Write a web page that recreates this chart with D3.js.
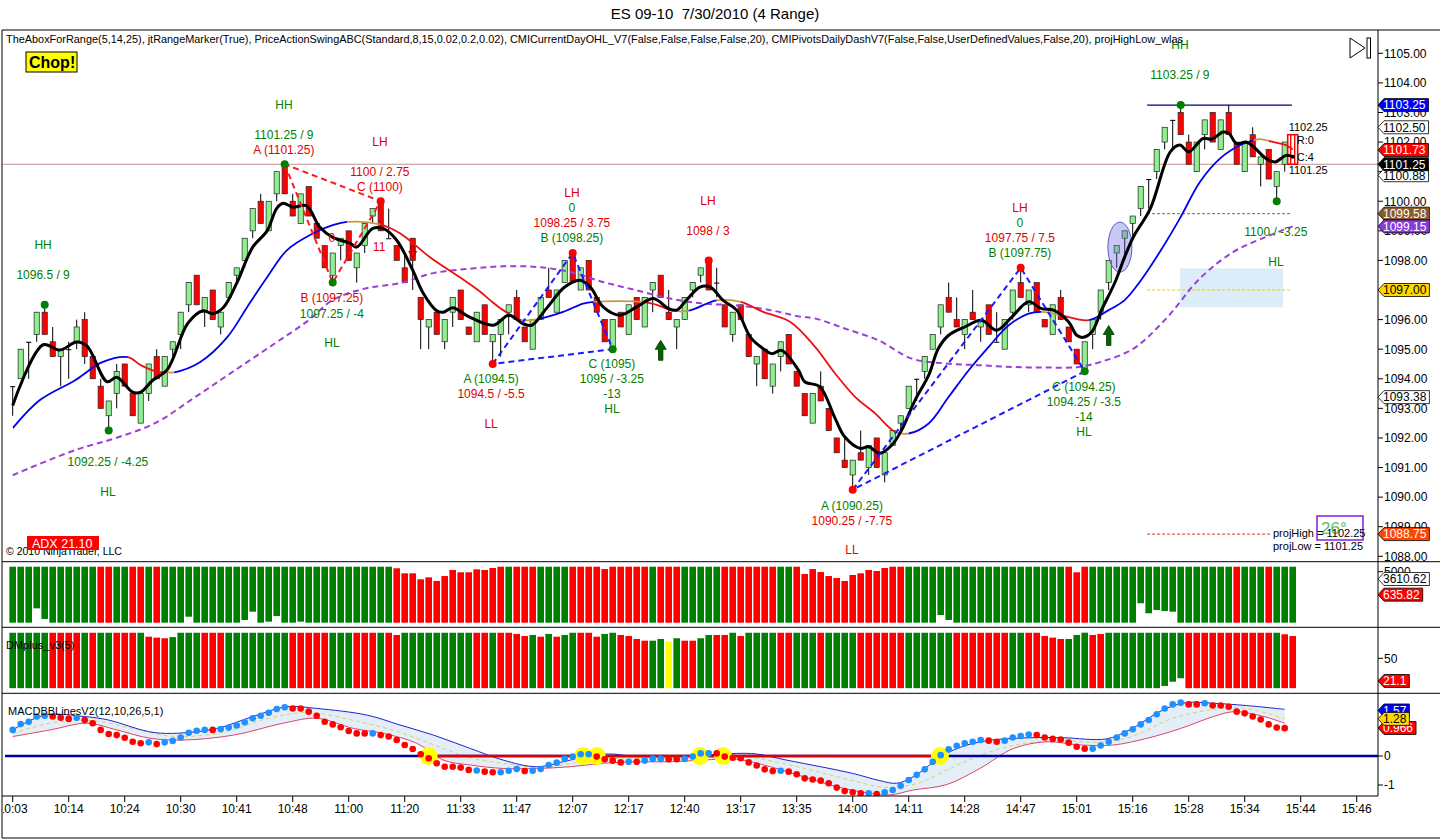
<!DOCTYPE html>
<html>
<head>
<meta charset="utf-8">
<script src="https://cdnjs.cloudflare.com/ajax/libs/d3/7.8.5/d3.min.js"></script>
<style>
  body { margin: 0; background: #fff; }
  svg text { font-family: "Liberation Sans", Arial, sans-serif; }
</style>
</head>
<body>
<div id="chart"></div>
<script>
// ES 09-10 4 range chart, 7/30/2010
const width = 1440, height = 840;

// ---- price bars (one per range bar) ----
const opens = [
  1093.75,1094,1095.25,1095.5,1096.25,1095.25,1094.75,1095,1095.25,1096,
  1094.75,1093.75,1092.75,1093.5,1094.5,1093.5,1092.5,1093.5,1094.75,1093.75,
  1095,1095.5,1096.5,1097.5,1096.25,1097,1095.75,1096.75,1097.5,1098,
  1099,1100,1099,1100.25,1101.25,1100,1099.25,1100.5,1099.25,1098.5,
  1097.5,1098.5,1099,1097.75,1098.5,1099.5,1100,1098.75,1098.5,1097.75,
  1098.75,1096.75,1095.75,1096.25,1095.25,1096.25,1097,1095.75,1095.25,1096.5,
  1095.25,1095.5,1096.25,1096.75,1095.75,1095,1096,1097,1096.25,1097.25,
  1098.25,1097,1098,1096.75,1096,1095,1096.25,1095.5,1096.75,1095.75,
  1097,1097.5,1096.25,1095.75,1096,1097,1097.5,1098,1097.25,1096.5,
  1095.5,1096.5,1095.5,1094.5,1095,1093.75,1094.75,1095.5,1094.25,1093.5,
  1092.5,1093.75,1093,1092,1091.25,1090.75,1091.5,1091,1092,1090.75,
  1091.75,1092.5,1093,1094,1094.25,1095,1095.75,1096.75,1096,1095.5,
  1096.25,1095.75,1096.5,1095.25,1095,1096.25,1097.25,1096.5,1097.25,1096,
  1095.5,1096.75,1095.75,1095,1094.25,1095.5,1096.25,1097.25,1098.25,1098.75,
  1099.25,1099.75,1100.75,1101,1102,1102.75,1103,1102,1101,1102.25,
  1103,1101.75,1103,1102,1101,1102.25,1101.25,1101.75,1100.5,1101.25,
  1102.25
];
const highs = [
  1093.75,1095,1095.25,1096.25,1096.5,1095.75,1095,1095.25,1096,1096.25,
  1094.75,1094,1093.25,1094.5,1094.5,1093.5,1093.5,1094.5,1095,1094.75,
  1095.25,1096.25,1097.25,1097.5,1096.75,1097,1096.25,1097.25,1097.75,1098.75,
  1099.75,1100.25,1100,1101,1101.25,1100.25,1100.25,1100.5,1099.25,1098.5,
  1098.25,1098.75,1099,1098.25,1099.25,1099.75,1100,1099.75,1098.5,1098.25,
  1098.75,1096.75,1096,1096.25,1096,1096.75,1097,1095.75,1096.25,1096.5,
  1095.5,1096,1096.5,1097,1095.75,1096,1096.75,1097.75,1097,1098,
  1098.25,1097.75,1098,1096.75,1096,1096,1096.25,1096.5,1096.75,1096.75,
  1097.25,1097.5,1097,1096,1096.75,1097.25,1097.75,1098,1097.75,1096.5,
  1096.25,1096.5,1095.5,1094.75,1095,1094.5,1095.25,1095.5,1094.25,1093.5,
  1093.5,1094.25,1093,1092,1092,1091.25,1092.25,1091.75,1092,1091.5,
  1092.25,1092.75,1093.75,1094,1094.75,1095.5,1096.5,1097.25,1096.75,1096,
  1097,1096,1096.5,1096.25,1096,1097,1097.75,1097,1097.25,1096,
  1096.5,1097,1095.75,1095,1095.25,1096,1097,1098,1098.5,1099,
  1099.5,1100.5,1100.75,1101.75,1102.5,1102.75,1103.25,1102.25,1102,1102.75,
  1103,1102.75,1103.25,1102,1102,1102.5,1101.5,1101.75,1101,1102,
  1102.25
];
const lows = [
  1092.75,1094,1094,1095.25,1095.5,1094.75,1093.75,1094,1095,1094.5,
  1094,1093,1092.25,1093,1093.75,1092.75,1092.5,1093.25,1094,1093.75,
  1094.75,1095,1096.25,1096.5,1095.75,1096,1095.5,1096.75,1097.25,1097.75,
  1098.75,1099.25,1099,1100,1100.25,1099.5,1099.25,1099.5,1098.75,1097.75,
  1097.25,1098,1098,1097.25,1098.25,1099.25,1099,1098.75,1098,1097.25,
  1097,1095,1095,1095.5,1095,1095.75,1096,1095.5,1095.25,1095.5,
  1094.5,1094.75,1095.5,1096,1095.25,1095,1096,1096.75,1096.25,1097.25,
  1097.25,1097,1097,1096.25,1095.25,1095,1095.75,1095.5,1096,1095.75,
  1096.25,1096.75,1096,1095,1096,1096.75,1097.25,1097,1096.75,1095.75,
  1095.25,1096,1094.75,1093.75,1094,1093.5,1094.25,1094.5,1093.75,1092.75,
  1092.5,1093.25,1092.25,1091.5,1091,1090.25,1091.25,1090.75,1091,1090.5,
  1091.75,1092.25,1093,1093.25,1094,1095,1095.5,1096.25,1095.75,1095,
  1096,1095.25,1095.5,1095.25,1095,1096,1096.75,1096.25,1096.25,1095.75,
  1095.5,1096,1095.25,1094.5,1094.25,1095,1096,1097,1097.75,1098,
  1098.75,1099.5,1099.75,1100.75,1101.75,1101.75,1102.25,1101.25,1101,1101.75,
  1102,1101.75,1102.25,1101.25,1101,1101.5,1100.5,1100.75,1100,1101,
  1101.25
];
const closes = [
  1093.75,1095,1095.25,1096.25,1095.5,1094.75,1095,1095,1095.75,1094.75,
  1094,1093,1093.25,1094.25,1093.75,1092.75,1093.5,1094.5,1094,1094.75,
  1095.25,1096.25,1097.25,1096.5,1096.75,1096,1096.25,1097.25,1097.75,1098.75,
  1099.75,1099.25,1100,1101,1100.25,1099.5,1100.25,1099.5,1098.75,1097.75,
  1098.25,1098.75,1098,1098.25,1099.25,1099.75,1099,1098.75,1098,1097.25,
  1098,1096,1096,1095.5,1096,1096.75,1096,1095.5,1096.25,1095.5,
  1095.5,1096,1096.5,1096,1095.25,1096,1096.75,1096.75,1097,1098,
  1097.25,1097.75,1097,1096.25,1095.25,1096,1095.75,1096.5,1096,1096.75,
  1097.25,1096.75,1096,1096,1096.75,1097.25,1097.75,1097,1097.25,1095.75,
  1096.25,1096,1094.75,1094.75,1094,1094.5,1095.25,1094.5,1093.75,1092.75,
  1093.5,1093.25,1092.25,1091.5,1091,1091.25,1091.25,1091.75,1091,1091.5,
  1092.25,1092.75,1093.75,1094,1094.75,1095.5,1096.5,1096.25,1095.75,1096,
  1096,1096,1095.5,1095.25,1096,1097,1096.75,1097,1096.25,1095.75,
  1096.5,1096,1095.25,1094.5,1095.25,1096,1097,1098,1098.5,1099,
  1099.5,1100.5,1100.75,1101.75,1102.5,1102.75,1102.25,1101.25,1102,1102.75,
  1102,1102.75,1102.25,1101.25,1102,1101.5,1101.5,1100.75,1101,1102,
  1101.25
];

// moving averages, sampled as [bar, price]
const fastMA = [[0,1093.1],[3.8,1095.15],[5.9,1094.97],[8,1095.24],[9.3,1095.1],[11.8,1093.9],[13,1094.05],[15,1093.55],[16,1093.55],[17.5,1093.95],[19.3,1094.3],[21.9,1095.88],[23.8,1096.3],[25,1096.2],[26.3,1096.4],[28,1097.23],[30,1098.45],[31.8,1099.0],[33,1099.76],[33.8,1099.93],[35,1099.8],[36.7,1099.85],[38.4,1099.12],[40,1098.78],[42.2,1098.58],[43,1098.45],[45,1099.08],[46.3,1099.08],[48,1098.68],[50,1097.67],[51.3,1096.9],[53,1096.3],[53.8,1096.25],[55,1096.4],[57,1096.1],[60.1,1095.81],[62,1096.15],[63.8,1095.86],[64.9,1095.81],[66.7,1096.37],[69,1097.1],[70.9,1097.33],[72.2,1097.1],[73.8,1096.43],[75.9,1096.15],[78,1096.43],[80.1,1096.71],[82,1096.37],[83,1096.32],[84.2,1096.65],[85.9,1097.1],[87.2,1097.1],[88.8,1096.65],[90.5,1096.32],[92.2,1095.41],[93.8,1095.02],[94.9,1094.85],[96.1,1094.96],[98.2,1094.3],[99,1093.9],[100.9,1093.73],[102.8,1092.66],[104,1092.04],[105.9,1091.65],[107,1091.7],[108.4,1091.48],[109.9,1091.76],[111.1,1092.26],[112.8,1093.28],[114.5,1094.12],[115.7,1095.02],[117,1095.47],[119,1095.75],[121.1,1095.98],[123,1095.64],[124.9,1096.09],[127,1096.6],[128.6,1096.37],[130.1,1096.32],[132,1095.92],[133,1095.47],[133.8,1095.4],[134.9,1095.59],[136.1,1096.32],[137.8,1097.27],[139,1098.12],[140.1,1098.8],[142.2,1099.75],[144.7,1101.67],[145.9,1101.9],[147,1101.67],[148.8,1102.12],[149.9,1102.1],[151.3,1102.34],[152,1102.3],[153,1101.95],[154.2,1102.0],[155.1,1101.84],[156.7,1101.44],[157.8,1101.33],[159.2,1101.55],[160,1101.5]];
const midMA = [[0,1092.33],[3.4,1093.28],[7.8,1093.95],[11.2,1094.56],[14.4,1094.73],[16,1094.46],[18,1094.24],[19.3,1094.22],[20.2,1094.22],[23.4,1094.56],[26.8,1095.4],[29.3,1096.42],[31.8,1097.43],[34.3,1098.35],[37.6,1098.92],[40,1099.19],[41.8,1099.3],[45.9,1099.22],[48.4,1098.92],[52.2,1098.1],[55.9,1097.43],[58.4,1096.95],[59.7,1096.65],[61.3,1096.32],[63.6,1095.98],[65.9,1096.03],[68.8,1096.26],[71.3,1096.54],[72.6,1096.6],[78.8,1096.6],[80.5,1096.5],[82.5,1096.3],[84.5,1096.3],[88,1096.65],[91,1096.6],[93.8,1096.26],[97.2,1095.92],[100.3,1095.08],[102.8,1094.18],[105.3,1093.39],[107.8,1092.83],[110.3,1092.21],[112,1092.15],[114.5,1092.49],[117,1093.39],[119.5,1094.29],[122,1095.08],[124.5,1095.81],[127,1096.2],[128.6,1096.26],[131,1096.15],[134.5,1095.98],[137,1096.32],[139,1096.66],[140.9,1097.28],[143.4,1098.29],[145.9,1099.42],[148.4,1100.65],[150.9,1101.44],[153.4,1101.89],[155.1,1102.06],[155.9,1102.1],[157.6,1102.0],[159.2,1101.89],[160,1101.75]];
// slope state of midMA: [fromBar, toBar, state]
const midStates = [[0,14.4,"up"],[14.4,19.3,"dn"],[19.3,20.2,"flat"],[20.2,41.8,"up"],[41.8,45.9,"flat"],[45.9,63.6,"dn"],[63.6,65.9,"flat"],[65.9,72.6,"up"],[72.6,78.8,"flat"],[78.8,82.5,"dn"],[82.5,84.5,"flat"],[84.5,88,"up"],[88,91,"flat"],[91,110.3,"dn"],[110.3,112,"flat"],[112,128.6,"up"],[128.6,131,"flat"],[131,134.5,"dn"],[134.5,155.1,"up"],[155.1,157,"flat"],[157,161,"dn"]];
const slowMA = [[0,1090.74],[7.8,1091.59],[12.8,1091.99],[17.8,1092.5],[22.8,1093.38],[27.8,1094.29],[32.8,1095.2],[37,1095.98],[40,1096.66],[44.2,1097.06],[48.4,1097.23],[52.6,1097.57],[57.2,1097.72],[61.3,1097.8],[65.5,1097.78],[69.7,1097.61],[73.8,1097.27],[78,1096.99],[82.2,1096.71],[86.3,1096.54],[90.5,1096.48],[94.7,1096.32],[98.4,1096.1],[100.3,1096.04],[104,1095.7],[108.2,1095.3],[112.4,1094.68],[116.5,1094.52],[120.7,1094.46],[124.9,1094.4],[129,1094.38],[133.2,1094.4],[136,1094.57],[140.1,1095.02],[144.2,1096.04],[148.4,1097.39],[152.6,1098.29],[156.7,1098.8],[160,1099.15]];

// swing points
const swingDots = [[4,1096.5,"g"],[12,1092.25,"g"],[34,1101.25,"g"],[40,1097.25,"g"],[46,1100,"r"],[60,1094.5,"r"],[70,1098.25,"r"],[75,1095,"g"],[87,1098,"r"],[105,1090.25,"r"],[126,1097.75,"r"],[134,1094.25,"g"],[146,1103.25,"g"],[158,1100,"g"]];
const abcRed = [[34,1101.25],[40,1097.25],[46,1100]];
const abcBlue1 = [[60,1094.5],[70,1098.25],[75,1095]];
const abcBlue2 = [[105,1090.25],[126,1097.75],[134,1094.25]];
const swingLabels = [
  [3.8,1098.52,"HH","g"],[3.8,1097.51,"1096.5 / 9","g"],
  [11.9,1091.19,"1092.25 / -4.25","g"],[11.9,1090.18,"HL","g"],
  [33.9,1103.25,"HH","g"],[33.9,1102.24,"1101.25 / 9","g"],[33.9,1101.73,"A (1101.25)","r"],
  [45.9,1102.0,"LH","r"],[45.9,1100.99,"1100 / 2.75","r"],[45.9,1100.48,"C (1100)","r"],
  [39.9,1098.76,"0","r"],[45.8,1098.45,"11","r"],
  [39.9,1096.73,"B (1097.25)","r"],[39.9,1096.19,"1097.25 / -4","g"],[39.9,1095.21,"HL","g"],
  [69.9,1100.28,"LH","r"],[69.9,1099.77,"0","g"],[69.9,1099.27,"1098.25 / 3.75","r"],[69.9,1098.76,"B (1098.25)","g"],
  [59.8,1093.99,"A (1094.5)","g"],[59.8,1093.49,"1094.5 / -5.5","r"],[59.8,1092.47,"LL","r"],
  [74.9,1094.5,"C (1095)","g"],[74.9,1093.99,"1095 / -3.25","g"],[74.9,1093.49,"-13","g"],[74.9,1092.98,"HL","g"],
  [86.9,1100.01,"LH","r"],[86.9,1099.0,"1098 / 3","r"],
  [104.9,1089.7,"A (1090.25)","g"],[104.9,1089.19,"1090.25 / -7.75","r"],[104.9,1088.21,"LL","r"],
  [125.9,1099.77,"LH","r"],[125.9,1099.27,"0","g"],[125.9,1098.76,"1097.75 / 7.5","r"],[125.9,1098.25,"B (1097.75)","g"],
  [133.9,1093.72,"C (1094.25)","g"],[133.9,1093.21,"1094.25 / -3.5","g"],[133.9,1092.71,"-14","g"],[133.9,1092.2,"HL","g"],
  [145.9,1105.28,"HH","g"],[145.9,1104.27,"1103.25 / 9","g"],
  [157.9,1098.96,"1100 / -3.25","g"],[157.9,1097.95,"HL","g"]
];
const arrows = [[81,1095.3,"up"],[137,1095.8,"up"],[50,1098.1,"dn"]];
const ellipseAt = [138.4, 1098.45];
const rangeInfo = [[159.5,1102.51,"1102.25"],[160.5,1102.07,"R:0"],[160.5,1101.5,"C:4"],[159.5,1101.06,"1101.25"]];

// day levels
const dayHighLine = [141.8, 159.9, 1103.25];
const pivotLine = [141.8, 159.9, 1099.58];
const openLine = [141.8, 159.9, 1097.00];
const projLine = [141.8, 157.2, 1088.75];
const zoneBox = [145.9, 158.8, 1096.41, 1097.73];
const lastCloseLevel = 1101.25;
const priceMarkers = [1103.25, 1102.50, 1101.73, 1100.88, 1101.25, 1099.58, 1099.15, 1097.00, 1093.38, 1088.75];

// volume panel
const volColors = ("GGGGGGGGGGG RR GG RR G R GGGGGGGGGGGGGGGGGGGGGGGGGGGGG RRRRRRRRRRRRRR G RRR GGGG RRRRRRRRRR G RRR GGGGG RRRRRRR GG " +
  "RRRRRRRRRRRRRR GGGGGGGGGGGGGGGGGGGG RRR GGGGGGGGGGGGGGGGGG R GGG R GGG").replace(/ /g, "").split("");
const volume = [
  6000,6000,6000,4460,5600,6000,6000,6000,6000,6000,
  6000,6000,6000,6000,6000,6000,6000,6000,6000,6000,
  6000,6000,5360,6000,6000,6000,6000,6000,6000,5710,
  4820,6000,5890,5290,6000,6000,5890,6000,6000,6000,
  6000,6000,6000,6000,6000,6000,6000,6000,5830,5290,
  5290,4650,4860,4470,5000,5650,5400,5400,5720,5650,
  5860,6000,6000,6000,6000,6000,6000,6000,6000,6000,
  6000,6000,6000,6000,5750,6000,6000,6000,6000,6000,
  6000,6000,6000,6000,6000,6000,6000,6000,6000,6000,
  6000,6000,6000,6000,6000,6000,6000,6000,6000,5220,
  5750,5430,5000,4790,4470,5110,5290,5650,5540,5860,
  6000,6000,6000,6000,6000,6000,5180,5710,6000,6000,
  6000,6000,6000,6000,6000,6000,6000,6000,6000,6000,
  6000,6000,6000,5400,6000,6000,6000,6000,6000,6000,
  6000,3920,4990,4640,4750,4820,6000,6000,6000,6000,
  6000,6000,6000,6000,6000,6000,6000,6000,6000,6000,
  6000
];
const volTicks = [5000];
const volMarkers = [3610.62, 635.82];

// DMplus panel
const dmColors = ("GGGGG RRRR G R GG RRR G RRR GGGG RRR GGGGGGGG RRRRR GGG RRR G RR GGGGGGGGG RR G RRRR G R G R GG RRR GG RRRR GG Y G RR GG RR G R " +
  "GGGG RR GGG R GGGG RRRRRR GGGGGG RRRRRRR GG RRRRR GGG RR GGGGGGGGGG RRRRRRRRRRR G RR").replace(/ /g, "").split("");
const dmTop = [
  82.5,82.5,82.5,82.5,82.5,82.5,82.5,82.5,82.5,82.5,
  82.5,82.5,82.5,82.5,82.5,82.5,82.5,77.5,76.3,75.5,
  77,82.5,82.5,82.5,82.5,82.5,82.5,82.5,82.5,82.5,
  82.5,82.5,82.5,82.5,82.5,82.5,82.5,82.5,82.5,82.5,
  82.5,82.5,82.5,82.5,82.5,82.5,82.5,82.5,79.7,82.5,
  82.5,82.5,82.5,82.5,82.5,82.5,82.5,82.5,82.5,82.5,
  82.5,82.5,82.5,81,78.4,79.7,77.5,81,77.5,79.7,
  82.5,82.5,82.5,77.5,81,82.5,79.7,78.4,74.6,72.4,
  72.4,74.6,71.2,75.5,72.4,72.4,75.5,79.7,79.7,79.7,
  82.5,78.4,82.5,82.5,82.5,82.5,82.5,82.5,82.5,82.5,
  82.5,82.5,82.5,82.5,82.5,82.5,82.5,82.5,82.5,82.5,
  82.5,82.5,82.5,82.5,82.5,82.5,82.5,82.5,82.5,82.5,
  82.5,82.5,82.5,82.5,82.5,82.5,82.5,82.5,82.5,78.4,
  76.3,74.6,74.6,79.7,82.6,79.7,81,82.5,82.5,82.5,
  82.5,82.5,82.5,82.5,82.5,82.5,82.5,82.5,82.5,82.5,
  82.5,82.5,82.5,82.5,82.5,82.5,82.5,82.5,82.5,80.6,
  78.4
];
const dmBottom = [
  12,12,12,12,12,12,12,12,12,12, 12,12,12,12,12,12,12,12,12,12,
  12,12,12,12,12,12,12,12,12,12, 12,12,12,12,12,12,12,12,12,12,
  12,12,12,12,12,12,12,12,12,12, 12,12,12,12,12,12,12,12,12,12,
  12,12,12,12,12,12,12,12,12,12, 12,12,12,12,12,12,12,12,12,12,
  12,12,12,12,12,12,12,12,12,12, 12,12,12,12,12,12,12,12,12,12,
  12,12,12,12,12,12,12,12,12,12, 12,12,12,12,12,12,12,12,12,12,
  12,12,12,12,12,12,12,12,12,12, 12,12,12,12,12,12,12,12,12,12,
  12,12,12,12,14.8,20.2,24.6,12,12,12, 12,12,12,12,12,12,12,12,12,12,
  12
];
const dmTicks = [50];
const dmMarker = 21.1;

// MACD BB panel
const macd = [
  0.90,1.10,1.18,1.36,1.39,1.36,1.32,1.28,1.32,1.24,
  1.13,0.90,0.76,0.72,0.63,0.49,0.44,0.47,0.41,0.47,
  0.52,0.64,0.80,0.87,0.90,0.90,0.93,0.98,1.05,1.16,
  1.30,1.39,1.49,1.62,1.68,1.64,1.64,1.53,1.39,1.18,
  1.09,0.99,0.86,0.78,0.78,0.78,0.72,0.67,0.55,0.38,
  0.24,0.06,-0.08,-0.25,-0.37,-0.37,-0.40,-0.48,-0.50,-0.54,
  -0.56,-0.56,-0.51,-0.45,-0.52,-0.51,-0.45,-0.31,-0.23,-0.10,
  -0.02,0.06,0.06,-0.02,-0.11,-0.16,-0.22,-0.20,-0.20,-0.16,
  -0.10,-0.10,-0.11,-0.11,-0.10,-0.02,0.09,0.09,0.09,-0.02,
  -0.06,-0.08,-0.22,-0.33,-0.46,-0.52,-0.51,-0.54,-0.63,-0.77,
  -0.81,-0.85,-0.94,-1.09,-1.21,-1.25,-1.29,-1.29,-1.31,-1.25,
  -1.17,-1.03,-0.83,-0.65,-0.46,-0.20,0.03,0.23,0.35,0.44,
  0.49,0.55,0.53,0.49,0.53,0.64,0.69,0.74,0.72,0.64,
  0.59,0.57,0.46,0.32,0.25,0.25,0.36,0.49,0.64,0.78,
  0.92,1.09,1.24,1.44,1.64,1.78,1.84,1.78,1.78,1.82,
  1.74,1.74,1.70,1.53,1.47,1.36,1.26,1.09,0.98,0.96
];
const macdColors = ("BBBBB RRR B RRRRRRRR B R BBBBBB R BBBBBBBBB RRRRRRRRRR B RRRRRRRRRRRR B RR BBB R BBBBBBBB RRRR B R BBB RR BBBB " +
  "RRRRRRRR B RRRRRRRRRR B R BBBBBBBBBBBBB RR BBBB RRRRRRR BBBBBBBBBBBB RR B RRRRRRRRRR").replace(/ /g, "").split("");
const bbUpper = [[0,0.90],[4,1.41],[9,1.36],[12,1.24],[17,0.84],[20,0.78],[25.5,0.95],[30,1.36],[34.3,1.70],[38,1.64],[44.3,1.41],[48.4,1.07],[52.6,0.72],[57.2,0.26],[61.3,-0.14],[65.5,-0.37],[69.7,-0.14],[74.2,0.07],[78,-0.02],[82.2,-0.02],[86.3,0.03],[90.5,0.09],[93,0.07],[96.7,-0.14],[101,-0.37],[105,-0.60],[108.4,-0.85],[110.5,-0.94],[112.6,-0.71],[116.7,0.09],[120.9,0.49],[127.2,0.63],[131.3,0.63],[136.7,0.59],[139.6,0.90],[143.8,1.59],[146.7,1.84],[150,1.82],[154.2,1.74],[159,1.61]];
const bbLower = [[0,0.67],[4.7,0.90],[9.3,1.13],[13,0.90],[17.2,0.61],[21.3,0.55],[27.6,0.72],[33.8,1.13],[38,1.30],[42.6,0.95],[46.3,0.78],[50.5,0.44],[53.8,-0.14],[57.2,-0.31],[61.3,-0.43],[65.5,-0.43],[69.7,-0.37],[73.8,-0.25],[78,-0.20],[82.2,-0.20],[86.3,-0.14],[90.5,-0.11],[94.7,-0.37],[98.8,-0.71],[103,-1.06],[107.2,-1.29],[109.7,-1.34],[112.6,-1.17],[116.7,-0.99],[120.9,-0.43],[125.1,0.26],[129.3,0.49],[133.4,0.38],[137.6,0.38],[141.8,0.61],[146,0.95],[150.1,1.36],[152.7,1.53],[156.4,1.36],[159,1.13]];
const bbMiddle = [[0,0.78],[5,1.15],[10,1.22],[15,0.95],[20,0.68],[26,0.80],[32,1.30],[37,1.50],[43,1.20],[48,0.85],[53,0.35],[57,-0.05],[62,-0.28],[66,-0.40],[70,-0.25],[75,-0.08],[80,-0.10],[86,-0.05],[91,-0.02],[95,-0.18],[100,-0.50],[105,-0.85],[109,-1.08],[113,-0.95],[117,-0.45],[121,0.03],[126,0.42],[131,0.52],[136,0.48],[140,0.68],[145,1.30],[150,1.60],[154,1.65],[159,1.28]];
const zeroCrossBars = [52, 71.3, 73, 85.9, 88.8, 115.9];
const zeroBelowRange = [53, 116.7];
const macdTicks = [0, -1];
const macdMarkers = [1.57, 1.28, 0.966];

// time axis, one label every 7 bars
const timeLabels = ["10:03","10:14","10:24","10:30","10:41","10:48","11:00","11:20","11:33","11:47","12:07","12:17","12:40",
  "13:17","13:35","14:00","14:11","14:28","14:47","15:01","15:16","15:28","15:34","15:44","15:46"];

// ---- layout ----
const axisX = 1378, frameL = 2, frameT = 30, frameB = 838;
const mainTop = 30, mainBot = 561.7, volBot = 627.3, dmBot = 693.3, macdBot = 796;
const green = "#008000", red = "#e00000";

const x = d3.scaleLinear().domain([0, 168]).range([12.7, 12.7 + 8 * 168]);
const y = d3.scaleLinear().domain([1088, 1105]).range([556.3, 53.3]);
const yVolLen = d3.scaleLinear().domain([0, 6000]).range([0, 56]);
const yVolAxis = d3.scaleLinear().domain([-4700, 5950]).range([622.7, 566.7]);
const yDm = d3.scaleLinear().domain([0, 100]).range([697.6, 619.0]);
const yMacd = d3.scaleLinear().domain([-1, 1]).range([785, 727]);

const svg = d3.select("#chart").append("svg")
  .attr("width", width).attr("height", height);
svg.append("rect").attr("width", width).attr("height", height).attr("fill", "#fff");
const defs = svg.append("defs");

function clipRect(id, x0, y0, x1, y1) {
  defs.append("clipPath").attr("id", id).append("rect")
    .attr("x", x0).attr("y", y0).attr("width", x1 - x0).attr("height", y1 - y0);
  return "url(#" + id + ")";
}

// title and header text
svg.append("text").attr("x", 715).attr("y", 19).attr("text-anchor", "middle")
  .attr("font-size", 15).style("white-space", "pre").text("ES 09-10  7/30/2010 (4 Range)");

// ---- main price panel ----
const main = svg.append("g").attr("clip-path", clipRect("clipMain", 3, mainTop, axisX, mainBot));

main.append("line").attr("x1", 3).attr("x2", axisX)
  .attr("y1", y(lastCloseLevel)).attr("y2", y(lastCloseLevel))
  .attr("stroke", "#c09090").attr("stroke-width", 1);

main.append("rect")
  .attr("x", x(zoneBox[0])).attr("width", x(zoneBox[1]) - x(zoneBox[0]))
  .attr("y", y(zoneBox[3])).attr("height", y(zoneBox[2]) - y(zoneBox[3]))
  .attr("fill", "#dcecf8");

function hLevel(lv, color, dash, w) {
  main.append("line").attr("x1", x(lv[0])).attr("x2", x(lv[1]))
    .attr("y1", y(lv[2])).attr("y2", y(lv[2]))
    .attr("stroke", color).attr("stroke-width", w || 1)
    .attr("stroke-dasharray", dash || null);
}
hLevel(dayHighLine, "#000080", null, 1.2);
hLevel(pivotLine, "#9a5a2a", "3,2");
hLevel(openLine, "#e6d200", "3,2");
hLevel(projLine, "#e03030", "3,2");

// candles
const bars = d3.range(opens.length).map(i => ({ i, o: opens[i], h: highs[i], l: lows[i], c: closes[i] }));
const lastBar = bars.length - 1;
const cg = main.append("g");
cg.selectAll("line.wick").data(bars.slice(0, lastBar)).enter().append("line")
  .attr("class", "wick")
  .attr("x1", d => x(d.i)).attr("x2", d => x(d.i))
  .attr("y1", d => y(d.h)).attr("y2", d => y(d.l))
  .attr("stroke", "#000").attr("stroke-width", 1);
cg.selectAll("rect.body").data(bars.slice(0, lastBar)).enter().append("rect")
  .attr("class", "body")
  .attr("x", d => x(d.i) - 2.6).attr("width", 5.2)
  .attr("y", d => y(Math.max(d.o, d.c)))
  .attr("height", d => Math.max(1, Math.abs(y(d.o) - y(d.c))))
  .attr("fill", d => d.c > d.o ? "#90ee90" : d.c < d.o ? "#ff0000" : "#000")
  .attr("stroke", d => d.c === d.o ? "none" : "#222").attr("stroke-width", 0.7);

// current (unfinished) range bar
const cb = bars[lastBar];
main.append("rect").attr("x", x(cb.i) - 5).attr("width", 10)
  .attr("y", y(cb.h)).attr("height", y(cb.l) - y(cb.h))
  .attr("fill", "none").attr("stroke", "#ff0000").attr("stroke-width", 1.6);
[-2, 2].forEach(dx => main.append("line")
  .attr("x1", x(cb.i) + dx).attr("x2", x(cb.i) + dx)
  .attr("y1", y(cb.h)).attr("y2", y(cb.l))
  .attr("stroke", "#ff0000").attr("stroke-width", 1.4));
main.append("circle").attr("cx", x(cb.i)).attr("cy", y(1101.5)).attr("r", 2).attr("fill", "#000");

const curve = d3.curveCatmullRom.alpha(0.5);
const maLine = d3.line().x(d => x(d[0])).y(d => y(d[1])).curve(curve);

main.append("path").attr("d", maLine(slowMA)).attr("fill", "none")
  .attr("stroke", "#9b3fd6").attr("stroke-width", 2).attr("stroke-dasharray", "6,4");

const stateColor = { up: "#0000ee", dn: "#ee1010", flat: "#c9993f" };
midStates.forEach((s, k) => {
  main.append("path").attr("d", maLine(midMA)).attr("fill", "none")
    .attr("stroke", stateColor[s[2]]).attr("stroke-width", 1.8)
    .attr("clip-path", clipRect("mid" + k, x(s[0]), 0, x(s[1]), height));
});

main.append("ellipse").attr("cx", x(ellipseAt[0])).attr("cy", y(ellipseAt[1]))
  .attr("rx", 12).attr("ry", 25)
  .attr("fill", "rgba(110,110,220,0.38)").attr("stroke", "#5a5acd").attr("stroke-width", 1);

main.append("path").attr("d", maLine(fastMA)).attr("fill", "none")
  .attr("stroke", "#000").attr("stroke-width", 3).attr("stroke-linejoin", "round");

const tri = d3.line().x(d => x(d[0])).y(d => y(d[1])).curve(d3.curveLinearClosed);
[[abcRed, "#ff1a1a"], [abcBlue1, "#1a1aff"], [abcBlue2, "#1a1aff"]].forEach(([pts, col]) => {
  main.append("path").attr("d", tri(pts)).attr("fill", "none")
    .attr("stroke", col).attr("stroke-width", 2).attr("stroke-dasharray", "6,4");
});

main.selectAll("circle.swing").data(swingDots).enter().append("circle")
  .attr("class", "swing")
  .attr("cx", d => x(d[0])).attr("cy", d => y(d[1])).attr("r", 4)
  .attr("fill", d => d[2] === "g" ? green : "#ff0000");

arrows.forEach(a => {
  const px = x(a[0]), py = y(a[1]);
  const d = a[2] === "up"
    ? "M0,0 L5.5,9 L2.2,9 L2.2,20 L-2.2,20 L-2.2,9 L-5.5,9 Z"
    : "M0,0 L-4,-6 L-1.5,-6 L-1.5,-11 L1.5,-11 L1.5,-6 L4,-6 Z";
  main.append("path").attr("d", d).attr("transform", `translate(${px},${py})`)
    .attr("fill", a[2] === "up" ? "#006400" : "#ff0000")
    .attr("stroke", a[2] === "up" ? "#003300" : "#800000").attr("stroke-width", 0.8);
});

main.selectAll("text.swing").data(swingLabels).enter().append("text")
  .attr("class", "swing")
  .attr("x", d => x(d[0])).attr("y", d => y(d[1])).attr("dy", "0.36em")
  .attr("text-anchor", "middle").attr("font-size", 12)
  .attr("fill", d => d[3] === "g" ? green : red)
  .text(d => d[2]);

main.selectAll("text.rinfo").data(rangeInfo).enter().append("text")
  .attr("class", "rinfo")
  .attr("x", d => x(d[0])).attr("y", d => y(d[1])).attr("dy", "0.36em")
  .attr("font-size", 11).attr("fill", "#000").text(d => d[2]);

// header indicator list and overlays
svg.append("text").attr("x", 6).attr("y", 43).attr("font-size", 11)
  .attr("textLength", 1177).attr("lengthAdjust", "spacingAndGlyphs")
  .text("TheAboxForRange(5,14,25), jtRangeMarker(True), PriceActionSwingABC(Standard,8,15,0.02,0.2,0.02), CMICurrentDayOHL_V7(False,False,False,False,20), CMIPivotsDailyDashV7(False,False,UserDefinedValues,False,20), projHighLow_wlas");
svg.append("rect").attr("x", 26).attr("y", 52).attr("width", 51).attr("height", 20)
  .attr("fill", "#ffff00").attr("stroke", "#000").attr("stroke-width", 1);
svg.append("text").attr("x", 29).attr("y", 67.5).attr("font-size", 16).attr("font-weight", "bold").text("Chop!");

svg.append("path").attr("d", "M1350,38 L1365,48 L1350,58 Z").attr("fill", "none").attr("stroke", "#000").attr("stroke-width", 1);
svg.append("rect").attr("x", 1367).attr("y", 38).attr("width", 3.5).attr("height", 20)
  .attr("fill", "none").attr("stroke", "#000").attr("stroke-width", 1);

svg.append("rect").attr("x", 1317).attr("y", 516).attr("width", 46).attr("height", 24)
  .attr("fill", "none").attr("stroke", "#8a2be2").attr("stroke-width", 1.6);
svg.append("text").attr("x", 1321).attr("y", 534).attr("font-size", 17).attr("fill", "#66bb66").text("26°");
svg.append("text").attr("x", 1273).attr("y", 537).attr("font-size", 11).text("projHigh = 1102.25");
svg.append("text").attr("x", 1273).attr("y", 550).attr("font-size", 11).text("projLow = 1101.25");

svg.append("text").attr("x", 6).attr("y", 555).attr("font-size", 10.5).text("© 2010 NinjaTrader, LLC");
svg.append("rect").attr("x", 27).attr("y", 536).attr("width", 72).attr("height", 14).attr("fill", "#ff0000");
svg.append("text").attr("x", 32).attr("y", 548).attr("font-size", 12.5).attr("fill", "#fff").text("ADX 21.10");

// ---- volume panel ----
const vg = svg.append("g");
vg.selectAll("rect").data(volume).enter().append("rect")
  .attr("x", (d, i) => x(i) - 3.3).attr("width", 6.6)
  .attr("y", (d, i) => volColors[i] === "G" ? yVolAxis.range()[1] : yVolAxis.range()[0] - yVolLen(d))
  .attr("height", d => yVolLen(d))
  .attr("fill", (d, i) => volColors[i] === "G" ? "#008000" : "#ff0000");

// ---- DMplus panel ----
const dg = svg.append("g");
const dmFill = { G: "#008000", R: "#ff0000", Y: "#ffff00" };
dg.selectAll("rect").data(dmTop).enter().append("rect")
  .attr("x", (d, i) => x(i) - 3.3).attr("width", 6.6)
  .attr("y", d => yDm(d))
  .attr("height", (d, i) => yDm(dmBottom[i]) - yDm(d))
  .attr("fill", (d, i) => dmFill[dmColors[i]]);
svg.append("text").attr("x", 6).attr("y", 649).attr("font-size", 11).text("DMplus_v3(5)");

// ---- MACD BB panel ----
const mg = svg.append("g").attr("clip-path", clipRect("clipMacd", 3, dmBot, axisX, macdBot));
const mLine = d3.line().x(d => x(d[0])).y(d => yMacd(d[1])).curve(curve);
const bandPath = mLine(bbUpper) + "L" + mLine(bbLower.slice().reverse()).slice(1) + "Z";
mg.append("path").attr("d", bandPath).attr("fill", "#e4eef8").attr("stroke", "none");
mg.append("path").attr("d", mLine(bbMiddle)).attr("fill", "none")
  .attr("stroke", "#d8d070").attr("stroke-width", 1).attr("stroke-dasharray", "4,3");
mg.append("path").attr("d", mLine(bbUpper)).attr("fill", "none").attr("stroke", "#2222cc").attr("stroke-width", 1);
mg.append("path").attr("d", mLine(bbLower)).attr("fill", "none").attr("stroke", "#dd4466").attr("stroke-width", 1);

mg.append("line").attr("x1", 5).attr("x2", axisX).attr("y1", yMacd(0)).attr("y2", yMacd(0))
  .attr("stroke", "#0000a0").attr("stroke-width", 2.5);
mg.append("line").attr("x1", x(zeroBelowRange[0])).attr("x2", x(zeroBelowRange[1]))
  .attr("y1", yMacd(0)).attr("y2", yMacd(0))
  .attr("stroke", "#dd0000").attr("stroke-width", 2.5);

mg.selectAll("circle.cross").data(zeroCrossBars).enter().append("circle")
  .attr("class", "cross").attr("cx", d => x(d)).attr("cy", yMacd(0)).attr("r", 9)
  .attr("fill", "#ffff00");
mg.selectAll("circle.dot").data(macd).enter().append("circle")
  .attr("class", "dot").attr("cx", (d, i) => x(i)).attr("cy", d => yMacd(d)).attr("r", 3.3)
  .attr("fill", (d, i) => macdColors[i] === "B" ? "#1e90ff" : "#ff0000");
svg.append("text").attr("x", 8).attr("y", 715).attr("font-size", 11).text("MACDBBLinesV2(12,10,26,5,1)");

// ---- frame and separators ----
svg.append("line").attr("x1", frameL).attr("x2", width).attr("y1", frameT).attr("y2", frameT).attr("stroke", "#000");
svg.append("line").attr("x1", frameL).attr("x2", frameL).attr("y1", frameT).attr("y2", frameB).attr("stroke", "#000");
svg.append("line").attr("x1", frameL).attr("x2", width).attr("y1", frameB).attr("y2", frameB).attr("stroke", "#000");
[mainBot, volBot, dmBot].forEach(v => svg.append("line")
  .attr("x1", frameL).attr("x2", width).attr("y1", v).attr("y2", v).attr("stroke", "#000"));
svg.append("line").attr("x1", frameL).attr("x2", axisX).attr("y1", macdBot).attr("y2", macdBot).attr("stroke", "#000");
svg.append("line").attr("x1", axisX).attr("x2", axisX).attr("y1", frameT).attr("y2", macdBot).attr("stroke", "#000");

// ---- right axes ----
const ax = svg.append("g").attr("font-size", 12);
function tick(yv, label) {
  ax.append("line").attr("x1", axisX).attr("x2", axisX + 5).attr("y1", yv).attr("y2", yv).attr("stroke", "#000");
  ax.append("text").attr("x", axisX + 6).attr("y", yv).attr("dy", "0.36em").text(label);
}
d3.range(1088, 1106).forEach(p => tick(y(p), p.toFixed(2)));
volTicks.forEach(v => tick(yVolAxis(v), String(v)));
dmTicks.forEach(v => tick(yDm(v), String(v)));
macdTicks.forEach(v => tick(yMacd(v), String(v)));

function marker(yv, label, bg, fg) {
  const g = ax.append("g").attr("transform", `translate(${axisX},${yv})`);
  const t = g.append("text").attr("x", 5).attr("dy", "0.36em").attr("fill", fg).text(label);
  const w = t.node().getComputedTextLength();
  g.insert("path", "text").attr("d", `M0,0 L6,-6.5 H${w + 8} V6.5 H6 Z`)
    .attr("fill", bg).attr("stroke", "#000").attr("stroke-width", 0.8);
}
const priceMarkerStyle = {
  1103.25: ["#0000ff", "#fff"], 1102.5: ["#fff", "#000"], 1101.73: ["#ff0000", "#fff"],
  1100.88: ["#fff", "#000"], 1101.25: ["#000", "#fff"], 1099.58: ["#8b5a2b", "#fff"],
  1099.15: ["#8a3ad6", "#fff"], 1097: ["#ffd700", "#000"], 1093.38: ["#fff", "#000"], 1088.75: ["#ff4500", "#fff"]
};
priceMarkers.forEach(p => marker(y(p), p.toFixed(2), priceMarkerStyle[p][0], priceMarkerStyle[p][1]));
marker(yVolAxis(volMarkers[0]), volMarkers[0].toFixed(2), "#fff", "#000");
marker(yVolAxis(volMarkers[1]), volMarkers[1].toFixed(2), "#ff0000", "#fff");
marker(yDm(dmMarker), dmMarker.toFixed(1), "#ff0000", "#fff");
marker(yMacd(macdMarkers[0]), String(macdMarkers[0]), "#0000ff", "#fff");
marker(yMacd(macdMarkers[2]), String(macdMarkers[2]), "#ff0000", "#fff");
marker(yMacd(macdMarkers[1]), String(macdMarkers[1]), "#ffd700", "#000");

// ---- time axis ----
const tg = svg.append("g").attr("clip-path", clipRect("clipTime", 3, macdBot, width, frameB));
timeLabels.forEach((lab, k) => {
  const tx = x(k * 7);
  tg.append("line").attr("x1", tx).attr("x2", tx).attr("y1", macdBot).attr("y2", macdBot + 6).attr("stroke", "#000");
  tg.append("text").attr("x", tx).attr("y", macdBot + 17).attr("text-anchor", "middle")
    .attr("font-size", 12).text(lab);
});
</script>
</body>
</html>
